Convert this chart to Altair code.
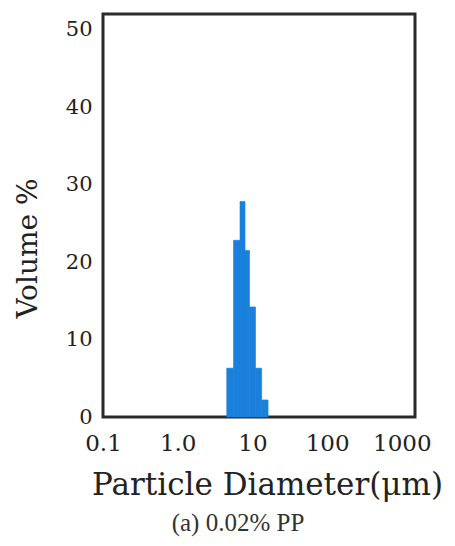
import altair as alt
import pandas as pd

# Histogram bins (particle diameter, µm) and volume %
bin_left = [4.53, 5.58, 6.82, 7.96, 9.15, 11.0, 13.3]
bin_right = [5.58, 6.82, 7.96, 9.15, 11.0, 13.3, 16.2]
volume = [6.3, 22.8, 27.8, 21.5, 14.2, 6.3, 2.2]

x_ticks = [0.1, 1, 10, 100, 1000]
x_tick_labels = ["0.1", "1.0", "10", "100", "1000"]
y_ticks = [0, 10, 20, 30, 40, 50]

df = pd.DataFrame({"left": bin_left, "right": bin_right, "vol": volume})

label_expr = " : ".join(
    f"datum.value < {v * 1.5} ? '{l}'" for v, l in zip(x_ticks[:-1], x_tick_labels[:-1])
) + f" : '{x_tick_labels[-1]}'"

bars = alt.Chart(df).mark_rect(color="#1a80dc", stroke="#1a80dc", strokeWidth=0.6).encode(
    x=alt.X(
        "left:Q",
        scale=alt.Scale(type="log", domain=[0.1, 1500], nice=False),
        axis=alt.Axis(
            values=x_ticks,
            labelExpr=label_expr,
            ticks=False,
            domain=False,
            grid=False,
            labelFont="DejaVu Serif",
            labelFontSize=23,
            labelColor="#222222",
            labelPadding=15,
            labelFlush=False,
            labelOverlap=False,
            title="Particle Diameter(μm)",
            titleFont="DejaVu Serif",
            titleFontSize=31,
            titleFontWeight="normal",
            titleColor="#222222",
            titleX=164,
            titleY=77,
            titleAlign="center",
            titleBaseline="alphabetic",
        ),
    ),
    x2="right:Q",
    y=alt.Y(
        "vol:Q",
        scale=alt.Scale(domain=[0, 52], nice=False),
        axis=alt.Axis(
            values=y_ticks,
            ticks=False,
            domain=False,
            grid=False,
            labelFont="DejaVu Serif",
            labelFontSize=21,
            labelColor="#222222",
            labelPadding=11,
            labelFlush=False,
            labelOverlap=False,
            title="Volume %",
            titleFont="DejaVu Serif",
            titleFontSize=28,
            titleFontWeight="normal",
            titleColor="#222222",
            titleAngle=270,
            titleX=-67,
            titleY=234,
            titleAlign="center",
            titleBaseline="alphabetic",
        ),
    ),
    y2=alt.datum(0),
)

chart = bars.properties(
    width=312,
    height=403,
    background="white",
    autosize=alt.AutoSizeParams(type="none"),
    padding={"left": 95, "top": 6, "right": 30, "bottom": 121},
    title=alt.TitleParams(
        "(a) 0.02% PP",
        orient="bottom",
        anchor="middle",
        font="Liberation Serif",
        fontSize=25,
        fontWeight="normal",
        color="#333333",
        dx=-21,
        offset=11,
    ),
).configure_view(
    stroke="#2a2a2a",
    strokeWidth=3,
)

chart.save("out.html", embed_options={"renderer": "svg", "actions": False})
